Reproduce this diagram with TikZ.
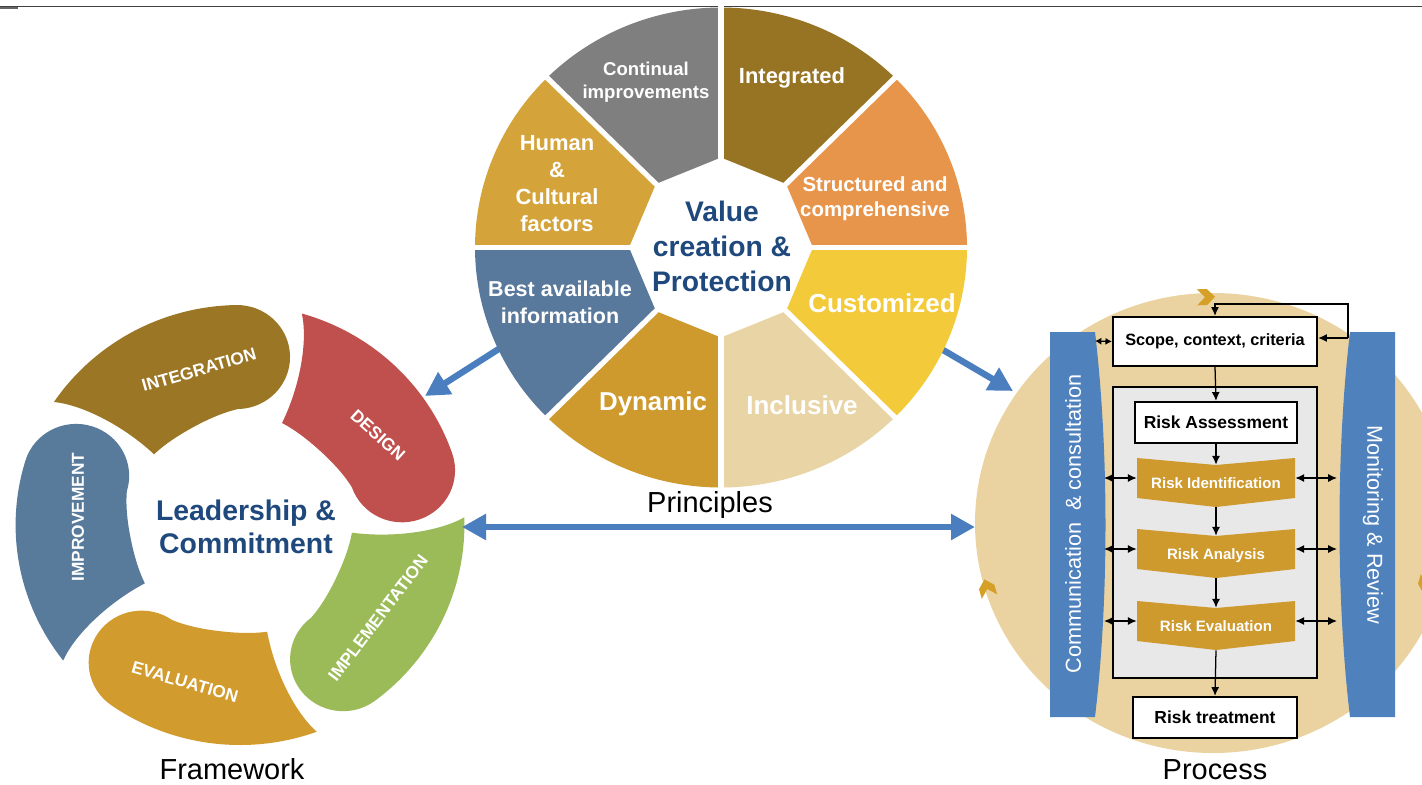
\documentclass[tikz,border=0pt]{standalone}
\usepackage{fontspec}
\setmainfont{Liberation Sans}
\usetikzlibrary{arrows.meta,positioning,calc}

% principles wheel
\definecolor{prOrange}{RGB}{232,149,76}
\definecolor{prOlive}{RGB}{150,116,35}
\definecolor{prGray}{RGB}{127,127,127}
\definecolor{prHuman}{RGB}{212,163,58}
\definecolor{prBlue}{RGB}{88,121,155}
\definecolor{prDyn}{RGB}{206,154,46}
\definecolor{prTan}{RGB}{232,212,164}
\definecolor{prYellow}{RGB}{242,202,58}
\definecolor{coreBlue}{RGB}{31,73,125}
% framework cycle
\definecolor{fwOlive}{RGB}{155,118,36}
\definecolor{fwRed}{RGB}{192,80,77}
\definecolor{fwGreen}{RGB}{155,187,89}
\definecolor{fwGold}{RGB}{209,155,45}
\definecolor{fwBlue}{RGB}{88,122,155}
% process
\definecolor{arrowBlue}{RGB}{74,126,190}
\definecolor{barBlue}{RGB}{79,129,189}
\definecolor{procTan}{RGB}{234,211,160}
\definecolor{stepGold}{RGB}{206,153,45}
\definecolor{markGold}{RGB}{214,160,40}
\definecolor{frameGray}{RGB}{232,232,232}
\definecolor{ruleGray}{RGB}{64,64,64}

\begin{document}
\begin{tikzpicture}[x=0.025cm, y=0.025cm,
  seg/.style={text=white, align=center, inner sep=0pt},
  core/.style={text=coreBlue, align=center, inner sep=0pt,
               font=\bfseries\fontsize{20.1}{24.9}\selectfont},
  caption/.style={anchor=base, inner sep=0pt, font=\fontsize{20.6}{24}\selectfont},
  fwlabel/.style={text=white, inner sep=0pt, font=\bfseries\fontsize{12.3}{14}\selectfont},
  bigarrow/.style={draw=arrowBlue, line width=0.16cm,
                   -{Triangle[length=0.6cm, width=0.62cm]}},
  bigboth/.style={bigarrow, {Triangle[length=0.6cm, width=0.62cm]}-{Triangle[length=0.6cm, width=0.62cm]}},
  sidebar/.style={fill=barBlue},
  barlabel/.style={text=white, inner sep=0pt, font=\fontsize{15.4}{18}\selectfont},
  whitebox/.style={draw=black, line width=1.6pt, fill=white, inner sep=0pt,
                   font=\bfseries\fontsize{12.4}{14}\selectfont},
  stepbox/.style={minimum width=3.95cm, minimum height=1cm, inner sep=0pt,
                  text height=0.55cm, text depth=0.03cm,
                  text=white, font=\bfseries\fontsize{10.7}{12}\selectfont},
  flow/.style={draw=black, line width=0.9pt, -{Latex[length=2.2mm, width=2mm]}},
  twoway/.style={flow, {Latex[length=2.2mm, width=2mm]}-{Latex[length=2.2mm, width=2mm]}},
]
  \fill[white] (0,0) rectangle (1422,-784);
  \useasboundingbox (0,0) rectangle (1422,-784);

  % rule across the top
  \draw[ruleGray, line width=0.04cm] (0,-6.5) -- (1422,-6.5);
  \draw[ruleGray!80, line width=0.05cm] (0,-7.7) -- (18,-7.7);

  % ===== links between the three parts (drawn first, under the wheels) =====
  \coordinate (pOutL) at (505,-345);
  \coordinate (fwTip) at (425,-396);
  \coordinate (pOutR) at (938,-347);
  \coordinate (prTip) at (1013,-391);
  \draw[bigarrow] (pOutL) -- (fwTip);
  \draw[bigarrow] (pOutR) -- (prTip);

  % ===== Principles wheel =====
  \begin{scope}[shift={(721,-247.5)}]
    \foreach \a/\col in {0/prOrange, 45/prOlive, 90/prGray, 135/prHuman,
                         180/prBlue, 225/prDyn, 270/prTan, 315/prYellow}
      \fill[\col] (\a:92 and 90) -- (\a:246 and 240)
        arc[start angle=\a, end angle=\a+45, x radius=246, y radius=240]
        -- (\a+45:92 and 90) -- cycle;
    \foreach \a in {0,45,...,315}
      \draw[white, line width=0.13cm] (0,0) -- (\a:252 and 246);
  \end{scope}

  \node[seg, font=\bfseries\fontsize{13.2}{16.4}\selectfont] (pCont) at (646,-82) {Continual\\improvements};
  \node[seg, font=\bfseries\fontsize{15.6}{18}\selectfont] (pInteg) at (792,-78) {Integrated};
  \node[seg, font=\bfseries\fontsize{15.6}{19.2}\selectfont] (pHuman) at (557,-184) {Human\\\&\\Cultural\\factors};
  \node[seg, font=\bfseries\fontsize{14.5}{17.8}\selectfont] (pStruct) at (875,-199) {Structured and\\comprehensive};
  \node[core] (pValue) at (722,-246) {Value\\creation \&\\Protection};
  \node[seg, font=\bfseries\fontsize{15.3}{19.2}\selectfont] (pBest) at (560,-302) {Best available\\information};
  \node[seg, font=\bfseries\fontsize{18.5}{21}\selectfont] (pCustom) at (882,-303) {Customized};
  \node[seg, font=\bfseries\fontsize{18.4}{21}\selectfont] (pDyn) at (653,-404) {Dynamic};
  \node[seg, font=\bfseries\fontsize{18.5}{21}\selectfont] (pIncl) at (802,-405) {Inclusive};

  % ===== Framework cycle: five curved blobs =====
  \begin{scope}[shift={(240,-525)}, xscale=1.02]
    \foreach \tail/\col in {146/fwOlive, 74/fwRed, 2/fwGreen, -70/fwGold, -142/fwBlue} {
      \pgfmathsetmacro\head{\tail-55}
      \fill[\col] (\tail:220) arc[start angle=\tail, end angle=\head, radius=220]
        arc[start angle=\head, end angle=\head-180, radius=52]
        -- plot[domain=\head:\tail-6, samples=30]
             (\x:{116-6*(\x-\head)/(\tail-6-\head)-5*sin(180*(\x-\head)/(\tail-6-\head))})
        .. controls (\tail-7:150) and (\tail-4:195) .. (\tail:220) -- cycle;
    }
  \end{scope}

  \node[fwlabel, rotate=16] (lInteg) at (199,-370) {INTEGRATION};
  \node[fwlabel, rotate=-42] (lDesign) at (378,-435) {DESIGN};
  \node[fwlabel, rotate=53] (lImpl) at (378,-618) {IMPLEMENTATION};
  \node[fwlabel, rotate=-16] (lEval) at (185,-682) {EVALUATION};
  \node[fwlabel, rotate=90] (lImpr) at (78,-517) {IMPROVEMENT};
  \node[core, font=\bfseries\fontsize{20.2}{23.5}\selectfont] (lead) at (246,-527) {Leadership \&\\Commitment};

  % ===== Process =====
  \fill[procTan] (1213,-523) ellipse[x radius=238, y radius=230];
  \foreach \px/\py/\rot in {1206/297/2, 987/588/106, 1426/585/-106}
    \fill[markGold, shift={(\px,-\py)}, rotate=\rot]
      (-9,8) -- (1,8) -- (9,0) -- (1,-8) -- (-9,-8) -- (-1,0) -- cycle;

  % side bars
  \fill[sidebar] (1050,-332) -- (1095,-332) .. controls (1109,-450) and (1109,-600) .. (1095,-717)
    -- (1050,-717) -- cycle;
  \fill[sidebar] (1395,-332) -- (1350,-332) .. controls (1336,-450) and (1336,-600) .. (1350,-717)
    -- (1395,-717) -- cycle;
  \node[barlabel, rotate=90] (comm) at (1073,-524) {Communication~~\& consultation};
  \node[barlabel, rotate=-90] (monit) at (1373,-525) {Monitoring \& Review};

  % boxes
  \node[whitebox, minimum width=5.1cm, minimum height=1.225cm,
        font=\bfseries\fontsize{11.6}{14}\selectfont] (scope) at (1215,-341.5) {Scope, context, criteria};
  \node[draw=black, line width=2pt, fill=frameGray, minimum width=5.1cm,
        minimum height=7.275cm] (frame) at (1215,-532.5) {};
  \node[whitebox, minimum width=4.05cm, minimum height=1.025cm] (assess) at (1216,-422.5) {Risk Assessment};
  \foreach \nm/\yy/\txt in {ident/478/Risk Identification, anal/549/Risk Analysis,
                            evalu/621/Risk Evaluation} {
    \fill[stepGold] (1137,-\yy+20) -- (1216,-\yy+13) -- (1295,-\yy+20) -- (1295,-\yy-20)
      -- (1216,-\yy-29) -- (1137,-\yy-20) -- cycle;
    \node[stepbox] (\nm) at (1216,-\yy) {\txt};
  }
  \node[whitebox, minimum width=4.1cm, minimum height=1.025cm] (treat) at (1215,-717.5) {Risk treatment};

  % flow through the assessment
  \draw[flow] (scope.south) -- (assess.north);
  \draw[flow] (assess.south) -- ($(ident.north)+(0,-7)$);
  \draw[flow] ($(ident.south)+(0,-9)$) -- ($(anal.north)+(0,-7)$);
  \draw[flow] ($(anal.south)+(0,-9)$) -- ($(evalu.north)+(0,-7)$);
  \draw[flow] ($(evalu.south)+(0,-9)$) -- (treat.north);

  % feedback from monitoring
  \coordinate (fbk) at (1348,-338);
  \coordinate (fbtop) at (1215,-304);
  \draw[flow] (fbk) -- (scope.east |- fbk);
  \draw[flow] (fbk) |- (fbtop) -- (scope.north);

  % exchanges with the side bars
  \coordinate (cs) at (1095,-341);
  \draw[flow, {Latex[length=1.6mm, width=1.8mm]}-{Latex[length=1.6mm, width=1.8mm]}] (cs) -- (scope.west);
  \coordinate (cedge) at (1104,0);
  \coordinate (medge) at (1337,0);
  \foreach \nm in {ident, anal, evalu} {
    \draw[twoway] (cedge |- \nm.west) -- (\nm.west);
    \draw[twoway] (\nm.east) -- (medge |- \nm.east);
  }

  % framework <-> process
  \coordinate (fwRight) at (462,-527);
  \coordinate (prLeft) at (975,-527);
  \draw[bigboth] (fwRight) -- (prLeft);

  % captions
  \node[caption] (capFw) at (232,-779) {Framework};
  \node[caption] (capPr) at (710,-512) {Principles};
  \node[caption] (capProc) at (1215,-779) {Process};
\end{tikzpicture}
\end{document}
